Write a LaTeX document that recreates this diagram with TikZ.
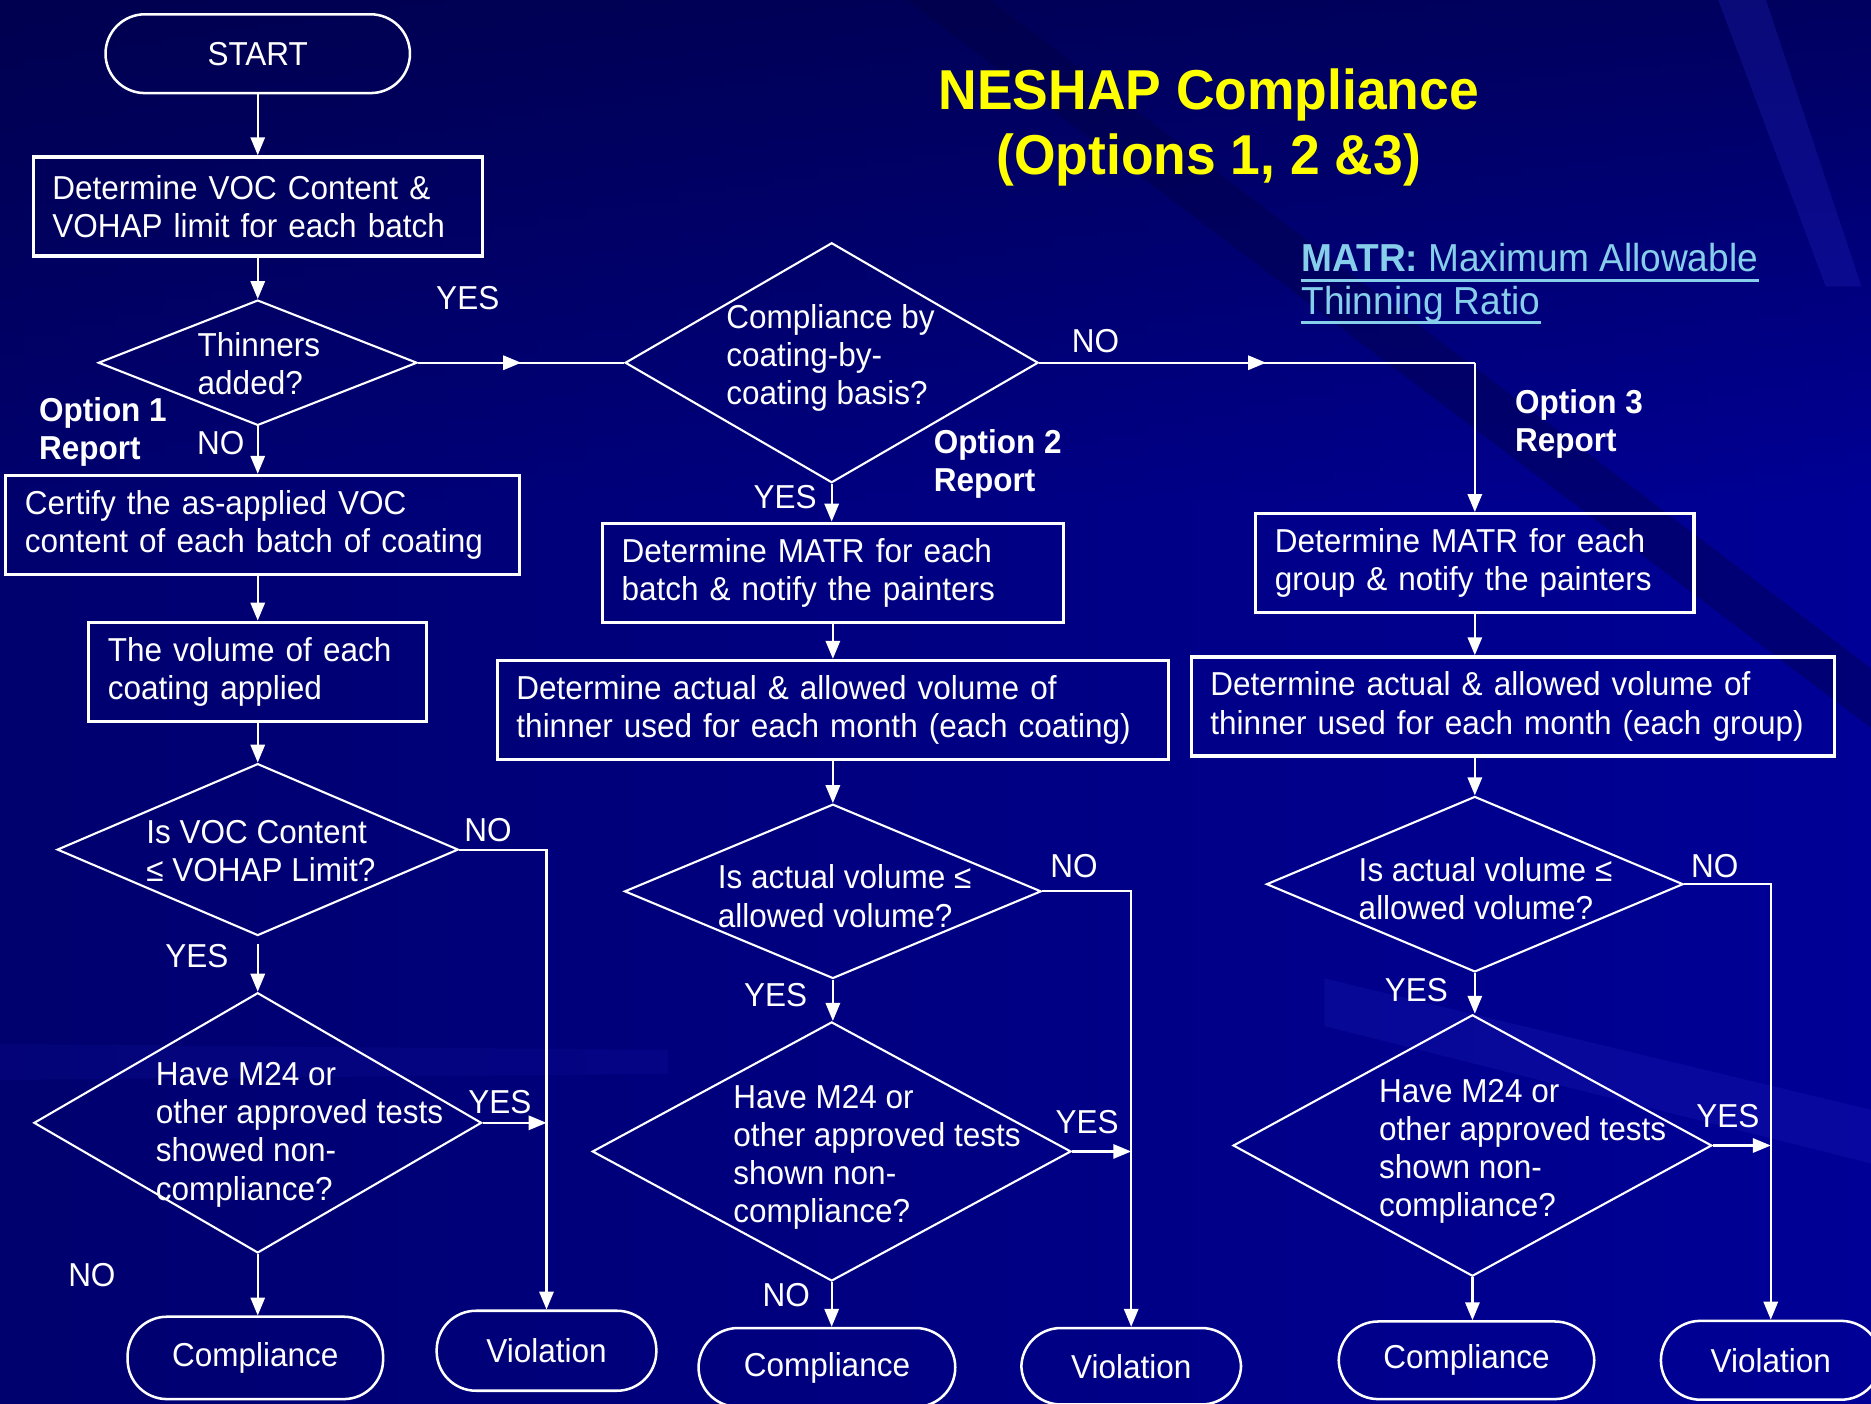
\documentclass[tikz,border=0pt]{standalone}
\usepackage{fontspec}
\setmainfont[FakeStretch=0.95]{Liberation Sans}
\usetikzlibrary{shapes.geometric,arrows.meta,calc,fadings}
\definecolor{bgleft}{RGB}{0,0,110}
\definecolor{bgright}{RGB}{0,0,150}
\definecolor{bgdark}{RGB}{0,0,60}
\definecolor{bglight}{RGB}{40,40,200}
\definecolor{titleyellow}{RGB}{255,255,0}
\definecolor{matrblue}{RGB}{135,206,235}

\begin{document}
\begin{tikzpicture}[x=0.01cm,y=-0.01cm,
    every node/.style={text=white,font=\fontsize{7.9}{9.1}\selectfont},
    terminal/.style={draw=white,line width=0.6pt,rectangle,rounded corners=0.33cm},
    procbox/.style={draw=white,line width=0.8pt,rectangle,align=left,inner xsep=0.16cm,minimum height=0.83cm},
    decision/.style={draw=white,line width=0.5pt,diamond,inner sep=0pt},
    qtext/.style={align=left,inner sep=0pt,anchor=west},
    lbl/.style={inner sep=0pt},
    optlbl/.style={align=left,inner sep=0pt,anchor=west,font=\fontsize{7.9}{9.1}\selectfont\bfseries},
    legendtext/.style={anchor=west,inner sep=0pt,text=matrblue,font=\fontsize{9.3}{10.5}\selectfont},
    arr/.style={white,line width=0.5pt,-{Triangle[length=0.15cm,width=0.12cm]}},
    link/.style={white,line width=0.5pt}]

    % background
    \shade[left color=bgleft,right color=bgright] (0,0) rectangle (1568,1176);
    \fill[bgdark,opacity=0.6,path fading=south] (0,0) rectangle (1568,420);
    \fill[bgdark,opacity=0.35] (760,0) -- (830,0) -- (1568,560) -- (1568,610) -- cycle;
    \fill[bglight,opacity=0.25] (1440,0) -- (1480,0) -- (1560,240) -- (1530,240) -- cycle;
    \fill[bglight,opacity=0.2] (1110,820) -- (1568,930) -- (1568,975) -- (1110,860) -- cycle;
    \fill[bglight,opacity=0.12] (0,875) -- (560,880) -- (560,900) -- (0,905) -- cycle;
    \useasboundingbox (0,0) rectangle (1568,1176);

    % title and legend
    \node[align=center,text=titleyellow,font=\fontsize{13.4}{15.6}\selectfont\bfseries] (title) at (1013,107) {NESHAP Compliance\\(Options 1, 2 \&3)};
    \node[legendtext] (legenda) at (1090,216) {\textbf{MATR:} Maximum Allowable};
    \node[legendtext] (legendb) at (1090,255) {Thinning Ratio};
    \draw[matrblue,line width=0.7pt] ([yshift=-0.07cm]legenda.base west) -- ([yshift=-0.07cm]legenda.base east);
    \draw[matrblue,line width=0.7pt] ([yshift=-0.07cm]legendb.base west) -- ([yshift=-0.07cm]legendb.base east);

    % option 1 column
    \node[terminal,minimum width=2.55cm,minimum height=0.66cm] (start) at (216,45) {START};
    \node[procbox,text width=3.44cm] (voc) at (216,173) {Determine VOC Content \&\\VOHAP limit for each batch};
    \node[decision,minimum width=2.67cm,minimum height=1.05cm] (thin) at (216,304) {};
    \node[qtext] (thintext) at (165,305) {Thinners\\added?};
    \node[procbox,text width=3.98cm] (cert) at (220,440) {Certify the as-applied VOC\\content of each batch of coating};
    \node[procbox,text width=2.51cm] (vol) at (216,563) {The volume of each\\coating applied};
    \node[decision,minimum width=3.36cm,minimum height=1.44cm] (voclim) at (216,712) {};
    \node[qtext] (voclimtext) at (122,713) {Is VOC Content\\≤ VOHAP Limit?};
    \node[decision,minimum width=3.75cm,minimum height=2.18cm] (testa) at (216,941) {};
    \node[qtext] (testatext) at (130,951) {Have M24 or\\other approved tests\\showed non-\\compliance?};
    \node[terminal,minimum width=2.14cm,minimum height=0.69cm] (compa) at (214,1138) {Compliance};
    \node[terminal,minimum width=1.84cm,minimum height=0.67cm] (vioa) at (458,1132) {Violation};

    % option 2 column
    \node[decision,minimum width=3.46cm,minimum height=2.01cm] (basis) at (697,304) {};
    \node[qtext] (basistext) at (608,300) {Compliance by\\coating-by-\\coating basis?};
    \node[procbox,text width=3.54cm] (matrb) at (698,480) {Determine MATR for each\\batch \& notify the painters};
    \node[procbox,text width=5.30cm] (actb) at (698,595) {Determine actual \& allowed volume of\\thinner used for each month (each coating)};
    \node[decision,minimum width=3.49cm,minimum height=1.46cm] (volb) at (698,747) {};
    \node[qtext] (volbtext) at (601,751) {Is actual volume ≤\\allowed volume?};
    \node[decision,minimum width=4.01cm,minimum height=2.17cm] (testb) at (697,965) {};
    \node[qtext] (testbtext) at (614,970) {Have M24 or\\other approved tests\\shown non-\\compliance?};
    \node[terminal,minimum width=2.15cm,minimum height=0.66cm] (compb) at (693,1146) {Compliance};
    \node[terminal,minimum width=1.84cm,minimum height=0.64cm] (viob) at (948,1145) {Violation};

    % option 3 column
    \node[procbox,text width=3.35cm] (matrc) at (1236,472) {Determine MATR for each\\group \& notify the painters};
    \node[procbox,text width=5.07cm] (actc) at (1268,592) {Determine actual \& allowed volume of\\thinner used for each month (each group)};
    \node[decision,minimum width=3.49cm,minimum height=1.47cm] (volc) at (1236,741) {};
    \node[qtext] (volctext) at (1138,745) {Is actual volume ≤\\allowed volume?};
    \node[decision,minimum width=4.01cm,minimum height=2.19cm] (testc) at (1234,960) {};
    \node[qtext] (testctext) at (1155,965) {Have M24 or\\other approved tests\\shown non-\\compliance?};
    \node[terminal,minimum width=2.14cm,minimum height=0.65cm] (compc) at (1229,1140) {Compliance};
    \node[terminal,minimum width=1.84cm,minimum height=0.66cm] (vioc) at (1484,1140) {Violation};

    % option labels
    \node[optlbl] (opta) at (32,362) {Option 1\\Report};
    \node[optlbl] (optb) at (782,389) {Option 2\\Report};
    \node[optlbl] (optc) at (1269,355) {Option 3\\Report};

    % yes / no labels
    \node[lbl] (yesthin) at (392,250) {YES};
    \node[lbl] (nothin) at (185,371) {NO};
    \node[lbl] (nobasis) at (918,286) {NO};
    \node[lbl] (yesbasis) at (658,417) {YES};
    \node[lbl] (novoclim) at (409,696) {NO};
    \node[lbl] (yesvoclim) at (165,801) {YES};
    \node[lbl] (yestesta) at (419,924) {YES};
    \node[lbl] (notesta) at (77,1069) {NO};
    \node[lbl] (novolb) at (900,726) {NO};
    \node[lbl] (yesvolb) at (650,834) {YES};
    \node[lbl] (yestestb) at (911,940) {YES};
    \node[lbl] (notestb) at (659,1085) {NO};
    \node[lbl] (novolc) at (1437,726) {NO};
    \node[lbl] (yesvolc) at (1187,830) {YES};
    \node[lbl] (yestestc) at (1448,935) {YES};

    % option 1 connectors
    \draw[arr] (start) -- (voc);
    \draw[arr] (voc) -- (thin);
    \draw[arr] (thin.south) -- (thin.south |- cert.north);
    \draw[arr] (vol.north |- cert.south) -- (vol.north);
    \draw[arr] (vol) -- (voclim);
    \draw[arr,shorten <=0.06cm] (voclim.south) -- (testa.north);
    \draw[arr] (testa.south) -- (testa.south |- compa.north);
    \draw[arr] (voclim.east) -| (vioa.north);
    \draw[arr] (testa.east) -- (testa.east -| vioa.north);

    % branch to options 2 and 3
    \draw[link] (thin.east) -- (basis.west);
    \draw[arr] (thin.east) -- ($(thin.east)!0.5!(basis.west)$);
    \coordinate (turn) at (matrc.north |- basis.east);
    \draw[link] (basis.east) -- (turn);
    \draw[arr] (basis.east) -- ++(190,0);
    \draw[arr] (turn) -- (matrc.north);

    % option 2 connectors
    \draw[arr] (basis.south) -- (basis.south |- matrb.north);
    \draw[arr] (matrb.south) -- (matrb.south |- actb.north);
    \draw[arr] (volb.north |- actb.south) -- (volb.north);
    \draw[arr] (volb.south) -- (volb.south |- testb.north);
    \draw[arr] (testb.south) -- (testb.south |- compb.north);
    \draw[arr] (volb.east) -| (viob.north);
    \draw[arr] (testb.east) -- (testb.east -| viob.north);

    % option 3 connectors
    \draw[arr] (matrc.south) -- (matrc.south |- actc.north);
    \draw[arr] (volc.north |- actc.south) -- (volc.north);
    \draw[arr] (volc.south) -- (volc.south |- testc.north);
    \draw[arr] (testc.south) -- (testc.south |- compc.north);
    \draw[arr] (volc.east) -| (vioc.north);
    \draw[arr] (testc.east) -- (testc.east -| vioc.north);
\end{tikzpicture}
\end{document}
